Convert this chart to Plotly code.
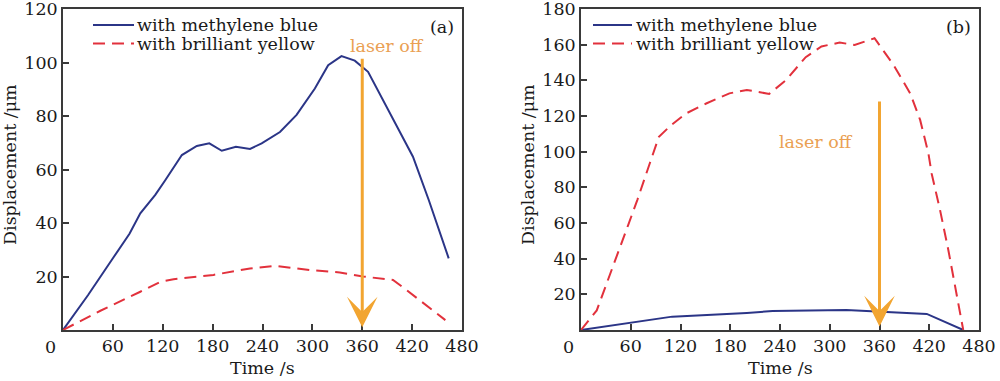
import plotly.graph_objects as go

# ---------------- data ----------------
time_a_blue = [0, 30, 60, 80, 93, 111, 123, 143, 161, 176, 191, 208, 225, 239, 261,
               281, 303, 319, 335, 351, 367, 385, 401, 421, 440, 464]
disp_a_blue = [0, 13, 26.8, 36, 43.6, 50.5, 56, 65.4, 68.8, 69.8, 67, 68.5, 67.7, 69.8, 74,
               80.4, 90.3, 99, 102.4, 100.7, 96.5, 86, 76.6, 64.8, 48.6, 26.8]

time_a_red = [0, 45, 93, 117, 133, 181, 225, 255, 297, 333, 361, 397, 413, 460]
disp_a_red = [0, 7.2, 14.3, 18, 19, 20.6, 23, 24, 22.4, 21.5, 20, 18.7, 15, 3.7]

time_b_blue = [0, 58, 110, 200, 231, 320, 337, 360, 417, 461]
disp_b_blue = [0, 4.1, 7.5, 9.6, 10.6, 11.2, 10.8, 10.3, 9.0, 0]

time_b_red = [0, 19, 57, 68, 83, 94, 109, 127, 151, 179, 200, 227, 247, 271, 290, 312,
              330, 354, 377, 397, 409, 419, 423, 433, 443, 453, 461]
disp_b_red = [0, 11, 59, 73, 93.5, 108.4, 115, 121.5, 127, 132.7, 134.6, 132.4, 140, 153,
              159, 161.2, 159.8, 163.6, 148.6, 132.7, 117.8, 99, 87.5, 67.3, 44.9, 18.7, 0]

series_names = ["with methylene blue", "with brilliant yellow"]
x_ticks = [0, 60, 120, 180, 240, 300, 360, 420, 480]
y_ticks_a = [20, 40, 60, 80, 100, 120]
y_ticks_b = [20, 40, 60, 80, 100, 120, 140, 160, 180]
panel_labels = ["(a)", "(b)"]
laser_off_time = 360
arrow_a = (102, 1)     # (tail, tip) displacement values
arrow_b = (129, 2)

# ---------------- styling ----------------
BLUE = "#2B3587"
RED = "#E2313C"
ORANGE = "#F2A531"
ORANGE_TXT = "#EAA052"
TXT = "#1a1a1a"
AX = "#3a3a3a"
FONT = "DejaVu Serif"
FS = 17.5
W, H = 1000, 381
DASH = "12px,7px"


def px(x):
    return x / W


def py(y):
    return (H - y) / H


fig = go.Figure()

fig.add_trace(go.Scatter(x=time_a_blue, y=disp_a_blue, mode="lines", name=series_names[0],
                         line=dict(color=BLUE, width=2), xaxis="x", yaxis="y"))
fig.add_trace(go.Scatter(x=time_a_red, y=disp_a_red, mode="lines", name=series_names[1],
                         line=dict(color=RED, width=2, dash=DASH), xaxis="x", yaxis="y"))
fig.add_trace(go.Scatter(x=time_b_blue, y=disp_b_blue, mode="lines", name=series_names[0],
                         line=dict(color=BLUE, width=2), xaxis="x2", yaxis="y2"))
fig.add_trace(go.Scatter(x=time_b_red, y=disp_b_red, mode="lines", name=series_names[1],
                         line=dict(color=RED, width=2, dash=DASH), xaxis="x2", yaxis="y2"))

ydom = [py(330), py(9)]
axis_common = dict(showline=True, linecolor=AX, linewidth=1.5, mirror=True,
                   ticks="inside", ticklen=6, tickcolor=AX, tickwidth=1.5,
                   showgrid=False, zeroline=False, automargin=False,
                   ticklabeloverflow="allow",
                   tickfont=dict(family=FONT, size=FS, color=TXT))

xlabels = ["" if v == 0 else str(v) for v in x_ticks]
fig.update_layout(
    xaxis=dict(domain=[px(63), px(462)], range=[0, 480], tickvals=x_ticks, ticktext=xlabels,
               anchor="y", ticklabelstandoff=-1, **axis_common),
    yaxis=dict(domain=ydom, range=[0, 120], tickvals=y_ticks_a, anchor="x", **axis_common),
    xaxis2=dict(domain=[px(581), px(979)], range=[0, 480], tickvals=x_ticks, ticktext=xlabels,
                anchor="y2", ticklabelstandoff=-1, **axis_common),
    yaxis2=dict(domain=ydom, range=[0, 180], tickvals=y_ticks_b, anchor="x2", **axis_common),
    showlegend=False,
)

font = dict(family=FONT, size=FS, color=TXT)
annotations = []
shapes = []


def label(x, y, text, fnt=font, angle=0, xanchor="center"):
    return dict(x=px(x), y=py(y), xref="paper", yref="paper", text=text, textangle=angle,
                xanchor=xanchor, yanchor="middle", showarrow=False, font=fnt)


# legends (drawn as sample lines + text)
for lx0, lx1, tx in ((93, 134, 135), (593, 632, 634)):
    for row, (name, col, dash) in enumerate(((series_names[0], BLUE, "solid"),
                                             (series_names[1], RED, DASH))):
        yy = 25 + row * 18.5
        shapes.append(dict(type="line", xref="paper", yref="paper",
                           x0=px(lx0), x1=px(lx1), y0=py(yy), y1=py(yy),
                           line=dict(color=col, width=2, dash=dash)))
        annotations.append(label(tx, yy, name, xanchor="left"))

# origin "0" labels
for cx in (50, 568):
    annotations.append(label(cx, 346.5, "0"))
# axis titles
for cx in (262.5, 780):
    annotations.append(label(cx, 368, "Time /s"))
for cx in (10, 528):
    annotations.append(label(cx, 165, "Displacement /μm", angle=-90))
# panel labels
annotations.append(label(441.5, 27, panel_labels[0]))
annotations.append(label(958, 27, panel_labels[1]))
# laser off arrows
for xr, yr, (tail, tip) in (("x", "y", arrow_a), ("x2", "y2", arrow_b)):
    annotations.append(dict(x=laser_off_time, y=tip, ax=laser_off_time, ay=tail,
                            xref=xr, yref=yr, axref=xr, ayref=yr, text="", showarrow=True,
                            arrowhead=3, arrowsize=1.7, arrowwidth=3, arrowcolor=ORANGE))
# laser off texts
otxt = dict(family=FONT, size=FS, color=ORANGE_TXT)
annotations.append(label(387, 46, "laser off", fnt=otxt))
annotations.append(label(815.5, 141.5, "laser off", fnt=otxt))

fig.update_layout(
    annotations=annotations,
    shapes=shapes,
    width=W, height=H,
    margin=dict(l=0, r=0, t=0, b=0),
    paper_bgcolor="white", plot_bgcolor="white",
)

fig.write_html("out.html", config={"displayModeBar": False},
               post_script="document.body.style.margin='0';document.body.style.overflow='hidden';")
